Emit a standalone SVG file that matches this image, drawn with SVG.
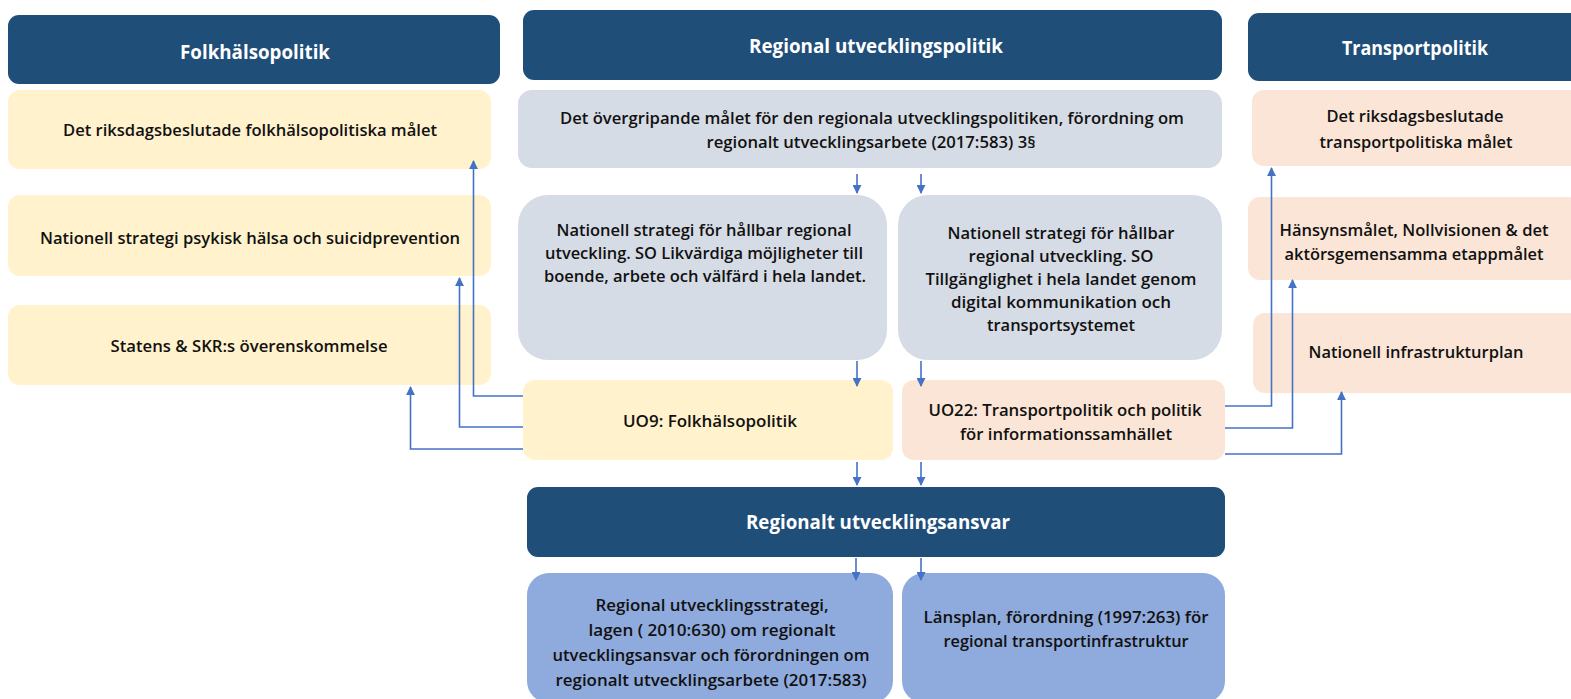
<svg xmlns="http://www.w3.org/2000/svg" width="1571" height="699" viewBox="0 0 1571 699">
  <style>
    .hdr { fill: #1F4E79; }
    .yel { fill: #FFF2CC; }
    .gry { fill: #D6DCE5; }
    .pch { fill: #FBE5D6; }
    .blu { fill: #8FAADC; }
    .ht { font-family: "Open Sans", "Liberation Sans", sans-serif; font-weight: 700; font-size: 19px; fill: #FFFFFF; text-anchor: middle; }
    .bt { font-family: "Open Sans", "Liberation Sans", sans-serif; font-weight: 600; font-size: 16px; fill: #111111; text-anchor: middle; }
    .con { fill: none; stroke: #4472C4; stroke-width: 1.6; marker-end: url(#arr); }
  </style>
  <defs>
    <marker id="arr" viewBox="0 0 10 10" refX="9" refY="5" markerWidth="9" markerHeight="9" markerUnits="userSpaceOnUse" orient="auto">
      <path d="M0,0 L10,5 L0,10 z" fill="#4472C4"/>
    </marker>
  </defs>
  <rect width="1571" height="699" fill="#FFFFFF"/>

  <!-- Folkhälsopolitik column -->
  <g id="hdr-folkhalsa">
    <rect class="hdr" x="8" y="15" width="492" height="69" rx="11"/>
    <text class="ht" x="255" y="59" textLength="150" lengthAdjust="spacingAndGlyphs">Folkhälsopolitik</text>
  </g>
  <g id="fh-malet">
    <rect class="yel" x="8" y="90" width="483" height="79" rx="12"/>
    <text class="bt" x="250" y="136" textLength="374" lengthAdjust="spacingAndGlyphs">Det riksdagsbeslutade folkhälsopolitiska målet</text>
  </g>
  <g id="fh-strategi">
    <rect class="yel" x="8" y="195" width="483" height="81" rx="12"/>
    <text class="bt" x="250" y="244" textLength="420" lengthAdjust="spacingAndGlyphs">Nationell strategi psykisk hälsa och suicidprevention</text>
  </g>
  <g id="fh-overens">
    <rect class="yel" x="8" y="305" width="483" height="80" rx="12"/>
    <text class="bt" x="249" y="352" textLength="277" lengthAdjust="spacingAndGlyphs">Statens &amp; SKR:s överenskommelse</text>
  </g>

  <!-- Regional utvecklingspolitik column -->
  <g id="hdr-regional">
    <rect class="hdr" x="523" y="10" width="699" height="70" rx="11"/>
    <text class="ht" x="876" y="53" textLength="254" lengthAdjust="spacingAndGlyphs">Regional utvecklingspolitik</text>
  </g>
  <g id="rp-malet">
    <rect class="gry" x="518" y="90" width="704" height="78" rx="14"/>
    <text class="bt" x="872" y="124" textLength="624" lengthAdjust="spacingAndGlyphs">Det övergripande målet för den regionala utvecklingspolitiken, förordning om</text>
    <text class="bt" x="871" y="148" textLength="329" lengthAdjust="spacingAndGlyphs">regionalt utvecklingsarbete (2017:583) 3§</text>
  </g>
  <g id="rp-so-likvardiga">
    <rect class="gry" x="518" y="195" width="369" height="165" rx="30"/>
    <text class="bt" x="704" y="236" textLength="295" lengthAdjust="spacingAndGlyphs">Nationell strategi för hållbar regional</text>
    <text class="bt" x="704" y="259" textLength="318" lengthAdjust="spacingAndGlyphs">utveckling. SO Likvärdiga möjligheter till</text>
    <text class="bt" x="705" y="282" textLength="322" lengthAdjust="spacingAndGlyphs">boende, arbete och välfärd i hela landet.</text>
  </g>
  <g id="rp-so-tillganglighet">
    <rect class="gry" x="898" y="195" width="324" height="165" rx="30"/>
    <text class="bt" x="1061" y="239" textLength="227" lengthAdjust="spacingAndGlyphs">Nationell strategi för hållbar</text>
    <text class="bt" x="1061" y="262" textLength="185" lengthAdjust="spacingAndGlyphs">regional utveckling. SO</text>
    <text class="bt" x="1061" y="285" textLength="271" lengthAdjust="spacingAndGlyphs">Tillgänglighet i hela landet genom</text>
    <text class="bt" x="1061" y="308" textLength="220" lengthAdjust="spacingAndGlyphs">digital  kommunikation och</text>
    <text class="bt" x="1061" y="331" textLength="148" lengthAdjust="spacingAndGlyphs">transportsystemet</text>
  </g>
  <g id="uo9">
    <rect class="yel" x="523" y="380" width="370" height="80" rx="12"/>
    <text class="bt" x="710" y="427" textLength="174" lengthAdjust="spacingAndGlyphs">UO9: Folkhälsopolitik</text>
  </g>
  <g id="uo22">
    <rect class="pch" x="902" y="380" width="323" height="80" rx="12"/>
    <text class="bt" x="1065" y="416" textLength="273" lengthAdjust="spacingAndGlyphs">UO22: Transportpolitik och politik</text>
    <text class="bt" x="1066" y="440" textLength="212" lengthAdjust="spacingAndGlyphs">för informationssamhället</text>
  </g>
  <g id="hdr-ansvar">
    <rect class="hdr" x="527" y="487" width="698" height="70" rx="11"/>
    <text class="ht" x="878" y="529" textLength="264" lengthAdjust="spacingAndGlyphs">Regionalt utvecklingsansvar</text>
  </g>
  <g id="ru-strategi">
    <rect class="blu" x="527" y="573" width="366" height="130" rx="22"/>
    <text class="bt" x="712" y="611" textLength="233" lengthAdjust="spacingAndGlyphs">Regional utvecklingsstrategi,</text>
    <text class="bt" x="712" y="636" textLength="247" lengthAdjust="spacingAndGlyphs">lagen ( 2010:630) om regionalt</text>
    <text class="bt" x="711" y="661" textLength="317" lengthAdjust="spacingAndGlyphs">utvecklingsansvar och förordningen om</text>
    <text class="bt" x="711" y="686" textLength="311" lengthAdjust="spacingAndGlyphs">regionalt utvecklingsarbete (2017:583)</text>
  </g>
  <g id="ru-lansplan">
    <rect class="blu" x="902" y="573" width="323" height="130" rx="22"/>
    <text class="bt" x="1066" y="623" textLength="285" lengthAdjust="spacingAndGlyphs">Länsplan, förordning (1997:263) för</text>
    <text class="bt" x="1066" y="647" textLength="245" lengthAdjust="spacingAndGlyphs">regional transportinfrastruktur</text>
  </g>

  <!-- Transportpolitik column -->
  <g id="hdr-transport">
    <rect class="hdr" x="1248" y="13" width="335" height="68" rx="11"/>
    <text class="ht" x="1415" y="55" textLength="146" lengthAdjust="spacingAndGlyphs">Transportpolitik</text>
  </g>
  <g id="tp-malet">
    <rect class="pch" x="1252" y="90" width="330" height="76" rx="12"/>
    <text class="bt" x="1415" y="122" textLength="177" lengthAdjust="spacingAndGlyphs">Det riksdagsbeslutade</text>
    <text class="bt" x="1416" y="148" textLength="193" lengthAdjust="spacingAndGlyphs">transportpolitiska målet</text>
  </g>
  <g id="tp-hansyn">
    <rect class="pch" x="1248" y="197" width="333" height="83" rx="12"/>
    <text class="bt" x="1414" y="236" textLength="269" lengthAdjust="spacingAndGlyphs">Hänsynsmålet, Nollvisionen &amp; det</text>
    <text class="bt" x="1414" y="260" textLength="259" lengthAdjust="spacingAndGlyphs">aktörsgemensamma etappmålet</text>
  </g>
  <g id="tp-infraplan">
    <rect class="pch" x="1253" y="313" width="330" height="80" rx="12"/>
    <text class="bt" x="1416" y="358" textLength="215" lengthAdjust="spacingAndGlyphs">Nationell infrastrukturplan</text>
  </g>

  <!-- Connectors -->
  <g id="connectors">
    <path class="con" d="M857,174 V193"/>
    <path class="con" d="M921,174 V193"/>
    <path class="con" d="M857,361 V386"/>
    <path class="con" d="M921,361 V386"/>
    <path class="con" d="M857,462 V485"/>
    <path class="con" d="M921,462 V485"/>
    <path class="con" d="M856,558 V580"/>
    <path class="con" d="M921,558 V580"/>

    <path class="con" d="M523,396 H473.5 V161"/>
    <path class="con" d="M523,427 H459.5 V278"/>
    <path class="con" d="M523,449 H410.5 V387"/>

    <path class="con" d="M1225,406 H1271.5 V168"/>
    <path class="con" d="M1225,428 H1292.5 V280"/>
    <path class="con" d="M1225,454 H1341.5 V392"/>
  </g>
</svg>
